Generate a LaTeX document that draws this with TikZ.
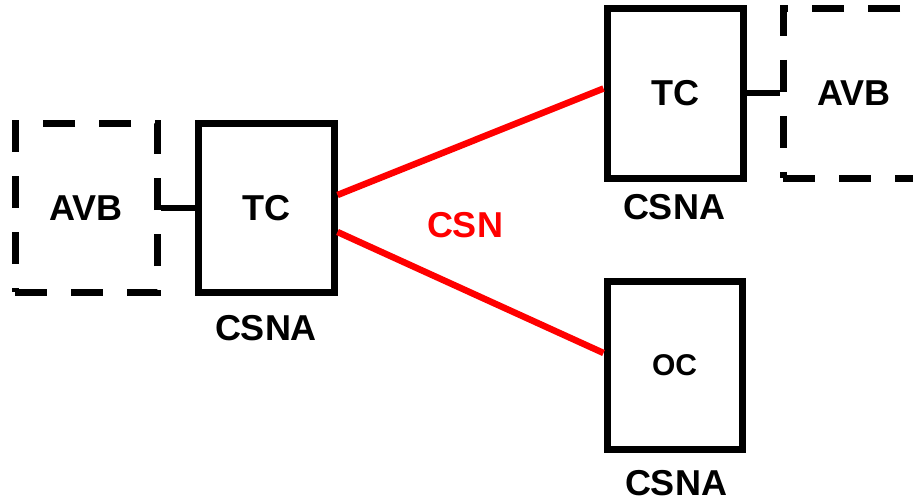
\documentclass[tikz,border=0pt]{standalone}
\usepackage{fontspec}
\setmainfont{Liberation Sans}
\begin{document}
\begin{tikzpicture}[x=1pt,y=-1pt,
  box/.style={draw=black,line width=7pt,inner sep=0pt,minimum width=136pt,minimum height=168pt,font=\fontsize{36}{40}\selectfont\bfseries},
  avbbox/.style={draw=black,line width=7pt,inner sep=0pt,minimum width=142pt,minimum height=168pt,dash pattern=on 32pt off 24pt,font=\fontsize{36}{40}\selectfont\bfseries},
  lbl/.style={inner sep=0pt,font=\fontsize{36}{40}\selectfont\bfseries},
  blk/.style={draw=black,line width=6pt},
  csn/.style={draw=red,line width=6.5pt}]
\clip (0,0) rectangle (913,500);
\fill[white] (0,0) rectangle (913,500);
% left group
\node[avbbox] (avb1) at (86,208) {AVB};
\node[box] (tc1) at (266,208) {TC};
\node[lbl] (csna1) at (266,328) {CSNA};
% right top group
\node[box,minimum height=169pt] (tc2) at (675,93.5) {TC};
\node[avbbox,minimum height=169pt] (avb2) at (854,93.5) {AVB};
\node[lbl] (csna2) at (674,207) {CSNA};
% OC
\node[box,minimum width=135pt,font=\fontsize{30}{34}\selectfont\bfseries] (oc) at (674.5,365) {OC};
\node[lbl] (csna3) at (676,483) {CSNA};
% connectors
\draw[blk] (avb1.east) -- (tc1.west);
\draw[blk] (tc2.east) -- (avb2.west);
\draw[csn] ([yshift=13pt]tc1.east) -- ([yshift=5pt]tc2.west);
\draw[csn] ([yshift=-24pt]tc1.east) -- ([yshift=12pt]oc.west);
\node[lbl,text=red] (csnlbl) at (465,225) {CSN};
\end{tikzpicture}
\end{document}
